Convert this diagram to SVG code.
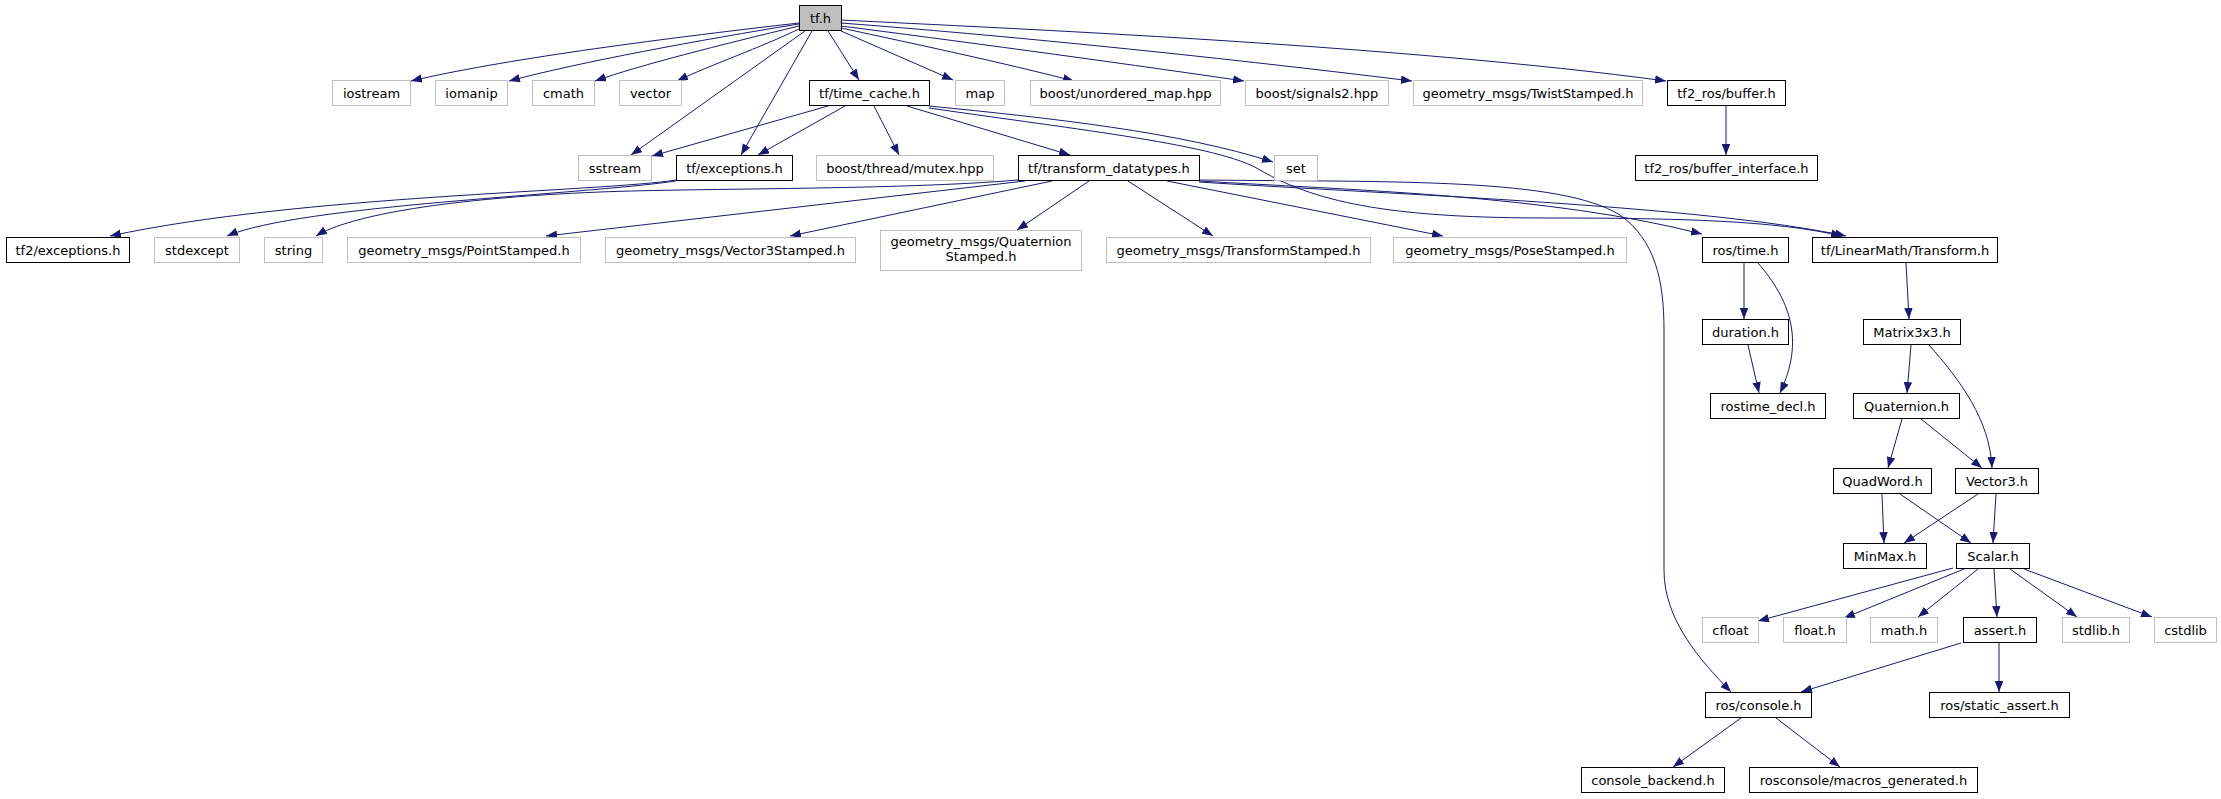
<svg xmlns="http://www.w3.org/2000/svg" width="2221" height="799" viewBox="0 0 2221 799">
<defs>
<marker id="arr" markerUnits="userSpaceOnUse" markerWidth="12" markerHeight="9" refX="11" refY="4.25" orient="auto">
<path d="M0,0 L11,4.25 L0,8.5 z" fill="#191970"/>
</marker>
<style>
.n rect{fill:#ffffff;stroke:#000000;stroke-width:1}
.g rect{fill:#ffffff;stroke:#bfbfbf;stroke-width:1}
.root rect{fill:#bfbfbf;stroke:#000000;stroke-width:1}
text{font-family:"DejaVu Sans",sans-serif;font-size:13px;fill:#000000;text-anchor:middle}
#edges path{fill:none;stroke:#191970;stroke-width:1;marker-end:url(#arr)}
</style>
</defs>
<rect width="2221" height="799" fill="#ffffff"/>
<g id="edges">
<path d="M799,23 C650,40 500,60 411,81"/>
<path d="M799,24 C700,40 580,62 509,81"/>
<path d="M799,26 C720,45 640,65 595,81"/>
<path d="M801,28 C760,48 710,65 677,81"/>
<path d="M805,31 L631,155"/>
<path d="M812,31 L741,155"/>
<path d="M828,31 L859,80"/>
<path d="M841,31 L953,80"/>
<path d="M841,28 C920,45 1000,62 1074,81"/>
<path d="M841,26 C950,40 1100,60 1244,81"/>
<path d="M841,23 C1000,35 1200,55 1412,81"/>
<path d="M841,20 C1000,28 1400,45 1666,81"/>
<path d="M828,106 L652,156"/>
<path d="M845,106 L758,155"/>
<path d="M874,106 L899,155"/>
<path d="M907,106 L1070,155"/>
<path d="M929,106 C1050,118 1180,132 1273,162"/>
<path d="M929,108 C1080,130 1220,145 1260,170 C1320,205 1400,218 1550,218 C1700,218 1780,222 1842,236"/>
<path d="M676,180 C600,192 300,195 110,236"/>
<path d="M676,181 C580,195 300,205 227,236"/>
<path d="M1018,180 C900,190 700,188 600,192 C450,198 350,215 316,236"/>
<path d="M1025,181 L546,236"/>
<path d="M1052,181 L790,236"/>
<path d="M1089,181 L1017,230"/>
<path d="M1128,181 L1213,236"/>
<path d="M1167,181 L1443,236"/>
<path d="M1199,181 C1350,190 1550,195 1702,234"/>
<path d="M1199,182 C1400,195 1700,205 1846,236"/>
<path d="M1199,180 C1400,182 1560,178 1620,215 C1655,240 1664,280 1664,330 L1664,570 C1664,620 1700,660 1731,692"/>
<path d="M1726,106 L1726,155"/>
<path d="M1744,263 L1744,319"/>
<path d="M1758,263 C1790,300 1805,340 1780,393"/>
<path d="M1748,345 L1759,393"/>
<path d="M1906,263 L1909,319"/>
<path d="M1911,345 L1907,393"/>
<path d="M1929,345 C1960,380 1990,420 1992,468"/>
<path d="M1902,419 L1888,468"/>
<path d="M1921,419 L1982,468"/>
<path d="M1882,494 L1884,543"/>
<path d="M1900,494 L1971,543"/>
<path d="M1978,494 L1904,543"/>
<path d="M1996,494 L1993,543"/>
<path d="M1953,568 L1758,621"/>
<path d="M1964,569 L1844,618"/>
<path d="M1978,569 L1918,617"/>
<path d="M1994,569 L1997,617"/>
<path d="M2010,569 L2077,617"/>
<path d="M2024,569 L2152,617"/>
<path d="M1961,643 L1801,692"/>
<path d="M1999,643 L1999,692"/>
<path d="M1741,718 L1673,767"/>
<path d="M1776,718 L1840,767"/>
</g>
<g id="tf_h" class="root"><rect x="799.5" y="5.5" width="42" height="25"/><text x="820.5" y="22.5">tf.h</text></g>
<g id="iostream" class="g"><rect x="332.5" y="80.5" width="78" height="25"/><text x="371.5" y="97.5">iostream</text></g>
<g id="iomanip" class="g"><rect x="435.5" y="80.5" width="72" height="25"/><text x="471.5" y="97.5">iomanip</text></g>
<g id="cmath" class="g"><rect x="532.5" y="80.5" width="62" height="25"/><text x="563.5" y="97.5">cmath</text></g>
<g id="vector" class="g"><rect x="619.5" y="80.5" width="62" height="25"/><text x="650.5" y="97.5">vector</text></g>
<g id="time_cache" class="n"><rect x="809.5" y="80.5" width="120" height="25"/><text x="869.5" y="97.5">tf/time_cache.h</text></g>
<g id="map" class="g"><rect x="955.5" y="80.5" width="49" height="25"/><text x="980" y="97.5">map</text></g>
<g id="unordered_map" class="g"><rect x="1030.5" y="80.5" width="190" height="25"/><text x="1125.5" y="97.5">boost/unordered_map.hpp</text></g>
<g id="signals2" class="g"><rect x="1245.5" y="80.5" width="143" height="25"/><text x="1317" y="97.5">boost/signals2.hpp</text></g>
<g id="twist" class="g"><rect x="1413.5" y="80.5" width="229" height="25"/><text x="1528" y="97.5">geometry_msgs/TwistStamped.h</text></g>
<g id="buffer" class="n"><rect x="1667.5" y="80.5" width="118" height="25"/><text x="1726.5" y="97.5">tf2_ros/buffer.h</text></g>
<g id="sstream" class="g"><rect x="578.5" y="155.5" width="73" height="25"/><text x="615" y="172.5">sstream</text></g>
<g id="tf_exceptions" class="n"><rect x="676.5" y="155.5" width="116" height="25"/><text x="734.5" y="172.5">tf/exceptions.h</text></g>
<g id="mutex" class="g"><rect x="816.5" y="155.5" width="177" height="25"/><text x="905" y="172.5">boost/thread/mutex.hpp</text></g>
<g id="transform_datatypes" class="n"><rect x="1018.5" y="155.5" width="181" height="25"/><text x="1109" y="172.5">tf/transform_datatypes.h</text></g>
<g id="set" class="g"><rect x="1274.5" y="155.5" width="43" height="25"/><text x="1296" y="172.5">set</text></g>
<g id="buffer_interface" class="n"><rect x="1635.5" y="155.5" width="182" height="25"/><text x="1726.5" y="172.5">tf2_ros/buffer_interface.h</text></g>
<g id="tf2_exceptions" class="n"><rect x="6.5" y="237.5" width="123" height="25"/><text x="68" y="254.5">tf2/exceptions.h</text></g>
<g id="stdexcept" class="g"><rect x="154.5" y="237.5" width="85" height="25"/><text x="197" y="254.5">stdexcept</text></g>
<g id="string" class="g"><rect x="264.5" y="237.5" width="58" height="25"/><text x="293.5" y="254.5">string</text></g>
<g id="point_stamped" class="g"><rect x="347.5" y="237.5" width="233" height="25"/><text x="464" y="254.5">geometry_msgs/PointStamped.h</text></g>
<g id="vector3_stamped" class="g"><rect x="605.5" y="237.5" width="250" height="25"/><text x="730.5" y="254.5">geometry_msgs/Vector3Stamped.h</text></g>
<g id="quaternion_stamped" class="g"><rect x="880.5" y="230.5" width="201" height="40"/><text x="981" y="246">geometry_msgs/Quaternion</text><text x="981" y="261">Stamped.h</text></g>
<g id="transform_stamped" class="g"><rect x="1106.5" y="237.5" width="264" height="25"/><text x="1238.5" y="254.5">geometry_msgs/TransformStamped.h</text></g>
<g id="pose_stamped" class="g"><rect x="1393.5" y="237.5" width="233" height="25"/><text x="1510" y="254.5">geometry_msgs/PoseStamped.h</text></g>
<g id="ros_time" class="n"><rect x="1702.5" y="237.5" width="86" height="25"/><text x="1745.5" y="254.5">ros/time.h</text></g>
<g id="linearmath_transform" class="n"><rect x="1812.5" y="237.5" width="185" height="25"/><text x="1905" y="254.5">tf/LinearMath/Transform.h</text></g>
<g id="duration" class="n"><rect x="1702.5" y="319.5" width="86" height="25"/><text x="1745.5" y="336.5">duration.h</text></g>
<g id="matrix3x3" class="n"><rect x="1863.5" y="319.5" width="97" height="25"/><text x="1912" y="336.5">Matrix3x3.h</text></g>
<g id="rostime_decl" class="n"><rect x="1710.5" y="393.5" width="115" height="25"/><text x="1768" y="410.5">rostime_decl.h</text></g>
<g id="quaternion" class="n"><rect x="1853.5" y="393.5" width="106" height="25"/><text x="1906.5" y="410.5">Quaternion.h</text></g>
<g id="quadword" class="n"><rect x="1833.5" y="468.5" width="98" height="25"/><text x="1882.5" y="485.5">QuadWord.h</text></g>
<g id="vector3" class="n"><rect x="1955.5" y="468.5" width="83" height="25"/><text x="1997" y="485.5">Vector3.h</text></g>
<g id="minmax" class="n"><rect x="1843.5" y="543.5" width="83" height="25"/><text x="1885" y="560.5">MinMax.h</text></g>
<g id="scalar" class="n"><rect x="1956.5" y="543.5" width="73" height="25"/><text x="1993" y="560.5">Scalar.h</text></g>
<g id="cfloat" class="g"><rect x="1702.5" y="617.5" width="56" height="25"/><text x="1730.5" y="634.5">cfloat</text></g>
<g id="float_h" class="g"><rect x="1783.5" y="617.5" width="63" height="25"/><text x="1815" y="634.5">float.h</text></g>
<g id="math_h" class="g"><rect x="1870.5" y="617.5" width="67" height="25"/><text x="1904" y="634.5">math.h</text></g>
<g id="assert_h" class="n"><rect x="1963.5" y="617.5" width="73" height="25"/><text x="2000" y="634.5">assert.h</text></g>
<g id="stdlib_h" class="g"><rect x="2062.5" y="617.5" width="67" height="25"/><text x="2096" y="634.5">stdlib.h</text></g>
<g id="cstdlib" class="g"><rect x="2154.5" y="617.5" width="62" height="25"/><text x="2185.5" y="634.5">cstdlib</text></g>
<g id="ros_console" class="n"><rect x="1705.5" y="692.5" width="106" height="25"/><text x="1758.5" y="709.5">ros/console.h</text></g>
<g id="static_assert" class="n"><rect x="1929.5" y="692.5" width="140" height="25"/><text x="1999.5" y="709.5">ros/static_assert.h</text></g>
<g id="console_backend" class="n"><rect x="1581.5" y="767.5" width="143" height="25"/><text x="1653" y="784.5">console_backend.h</text></g>
<g id="macros_generated" class="n"><rect x="1749.5" y="767.5" width="228" height="25"/><text x="1863.5" y="784.5">rosconsole/macros_generated.h</text></g>
</svg>
